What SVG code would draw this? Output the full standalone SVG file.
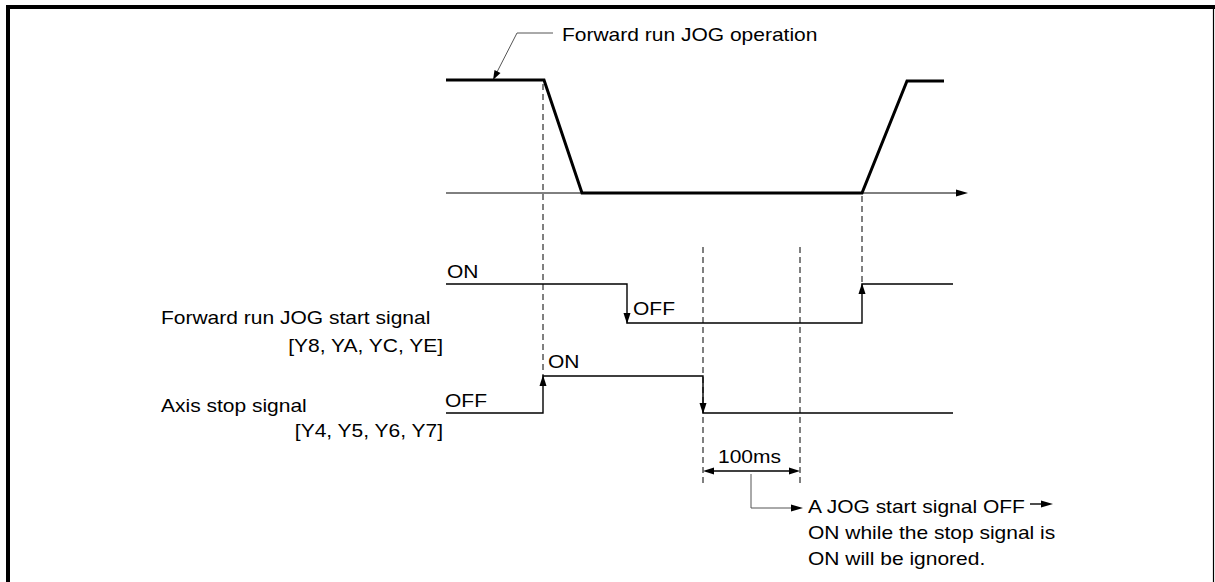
<svg xmlns="http://www.w3.org/2000/svg" width="1215" height="582" viewBox="0 0 1215 582">
<style>
.t{font-family:"Liberation Sans",Arial,Helvetica,sans-serif;font-size:17.5px;fill:#000}
.wave{fill:none;stroke:#000;stroke-width:3;stroke-linejoin:miter}
.sig{fill:none;stroke:#000;stroke-width:1.4}
.thin{fill:none;stroke:#000;stroke-width:1}
.dash{fill:none;stroke:#000;stroke-width:1;stroke-dasharray:6 4}
.lead{fill:none;stroke:#555;stroke-width:1}
.ah{fill:#000}
</style>
<rect x="0" y="0" width="1215" height="582" fill="#fff"/>
<g id="frame">
<line x1="6" y1="7" x2="1215" y2="7" stroke="#000" stroke-width="4"/>
<line x1="8" y1="5" x2="8" y2="582" stroke="#000" stroke-width="4"/>
<line x1="1213.5" y1="7" x2="1213.5" y2="582" stroke="#000" stroke-width="1.2"/>
</g>
<g id="jog-operation">
<polyline class="wave" points="446,80 544,80 582,193 862,193 907,81 944,81"/>
<line class="thin" x1="446" y1="193" x2="958" y2="193"/>
<polygon class="ah" points="968,193 956,189.5 956,196.5"/>
<polyline class="lead" points="553,33 517,33 496,74"/>
<polygon class="ah" points="493,80 494.5,70 500.5,73"/>
<text class="t" transform="translate(562,41) scale(1.2,1)">Forward run JOG operation</text>
</g>
<g id="connectors">
<line class="dash" x1="543" y1="84" x2="543" y2="376"/>
<line class="dash" x1="862" y1="196" x2="862" y2="284"/>
<line class="dash" x1="703" y1="247" x2="703" y2="484"/>
<line class="dash" x1="800" y1="247" x2="800" y2="484"/>
</g>
<g id="start-signal">
<path class="sig" d="M446,284 H627 V323 H862 V284 H953"/>
<polygon class="ah" points="627,324 623.5,313 630.5,313"/>
<polygon class="ah" points="862,283 858.5,294 865.5,294"/>
<text class="t" transform="translate(447,278) scale(1.2,1)">ON</text>
<text class="t" transform="translate(633,315) scale(1.2,1)">OFF</text>
<text class="t" transform="translate(161,324) scale(1.2,1)">Forward run JOG start signal</text>
<text class="t" text-anchor="end" transform="translate(443,352) scale(1.2,1)">[Y8, YA, YC, YE]</text>
</g>
<g id="stop-signal">
<path class="sig" d="M446,413 H543 V376 H703 V413 H953"/>
<polygon class="ah" points="543,375 539.5,386 546.5,386"/>
<polygon class="ah" points="703,414 699.5,403 706.5,403"/>
<text class="t" transform="translate(548,368) scale(1.2,1)">ON</text>
<text class="t" transform="translate(445,407) scale(1.2,1)">OFF</text>
<text class="t" transform="translate(161,412) scale(1.2,1)">Axis stop signal</text>
<text class="t" text-anchor="end" transform="translate(443,437) scale(1.2,1)">[Y4, Y5, Y6, Y7]</text>
</g>
<g id="dimension-100ms">
<line class="sig" x1="706" y1="471" x2="797" y2="471"/>
<polygon class="ah" points="703,471 714,467.5 714,474.5"/>
<polygon class="ah" points="800,471 789,467.5 789,474.5"/>
<text class="t" transform="translate(718,463) scale(1.2,1)">100ms</text>
</g>
<g id="note">
<polyline class="lead" points="751,474 751,508 792,508"/>
<polygon class="ah" points="803,508 791,504.5 791,511.5"/>
<line class="sig" x1="1030" y1="504" x2="1042" y2="504"/>
<polygon class="ah" points="1053,504 1041,500.5 1041,507.5"/>
<text class="t" transform="translate(808,513) scale(1.2,1)">A JOG start signal OFF</text>
<text class="t" transform="translate(808,539) scale(1.2,1)">ON while the stop signal is</text>
<text class="t" transform="translate(808,565) scale(1.2,1)">ON will be ignored.</text>
</g>
</svg>
